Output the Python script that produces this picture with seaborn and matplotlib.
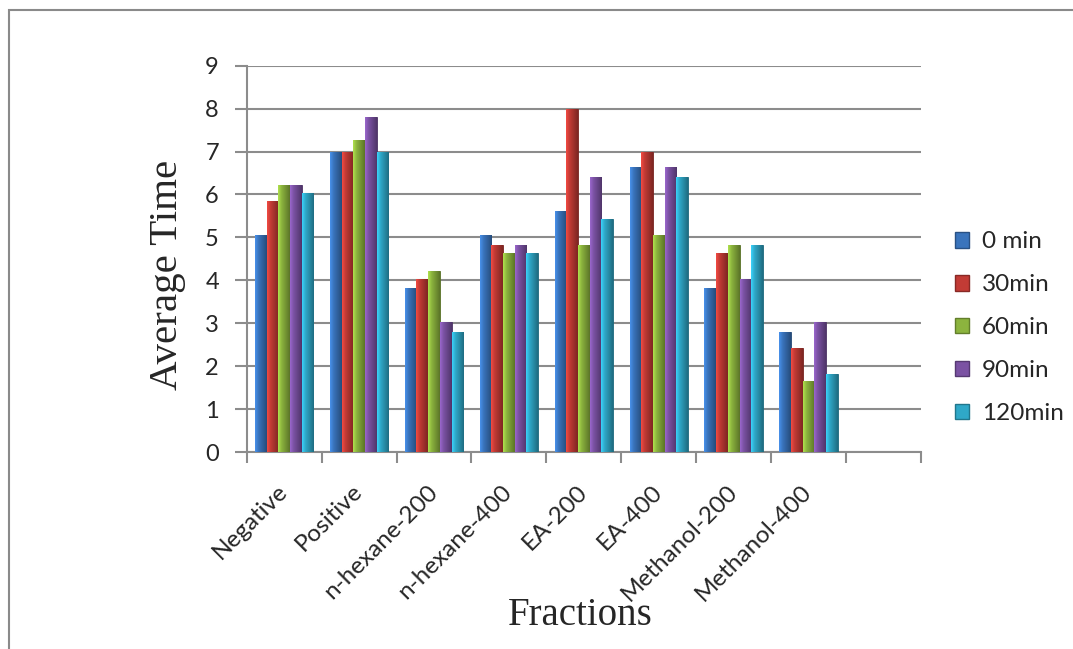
import numpy as np
import pandas as pd
import seaborn as sns
import matplotlib.pyplot as plt
from matplotlib.patches import Patch, Rectangle
from matplotlib.colors import to_rgb

sns.set_style("white")
plt.rcParams['font.family'] = ['Lato', 'DejaVu Sans']

categories = ["Negative", "Positive", "n-hexane-200", "n-hexane-400",
              "EA-200", "EA-400", "Methanol-200", "Methanol-400"]
times = ["0 min", "30min", "60min", "90min", "120min"]
t0 = [5.05, 7.0, 3.83, 5.05, 5.61, 6.63, 3.83, 2.80]
t30 = [5.84, 7.0, 4.02, 4.82, 8.0, 7.0, 4.63, 2.43]
t60 = [6.21, 7.26, 4.21, 4.63, 4.82, 5.05, 4.82, 1.65]
t90 = [6.21, 7.81, 3.04, 4.82, 6.40, 6.63, 4.02, 3.04]
t120 = [6.03, 7.0, 2.80, 4.63, 5.43, 6.40, 4.82, 1.82]
colors = ["#3a74bc", "#c23b35", "#8cb43e", "#7b52a3", "#2fa8c8"]

rows = []
for t, vals in zip(times, [t0, t30, t60, t90, t120]):
    for c, v in zip(categories, vals):
        rows.append({"Fraction": c, "Time": t, "Average Time": v})
df = pd.DataFrame(rows)

# excel leaves an empty 9th slot on the axis
order = categories + [" "]

fig = plt.figure(figsize=(10.73, 6.49), dpi=100)
ax = fig.add_axes([0.2299, 0.3035, 0.6284, 0.5953])

sns.barplot(data=df, x="Fraction", y="Average Time", hue="Time", order=order,
            hue_order=times, palette=colors, width=0.78, saturation=1,
            legend=False, ax=ax, zorder=3)

# bevel look: horizontal gradient clipped to each bar
for p in list(ax.patches):
    h = p.get_height()
    if not np.isfinite(h) or h <= 0:
        continue
    base = np.array(to_rgb(p.get_facecolor()))
    x = np.linspace(0, 1, 40)
    shade = np.where(x < 0.3, 1.0 + 0.25 * (0.3 - x) / 0.3, 1.0 - 0.35 * (x - 0.3) / 0.7)
    grad = np.clip(base[None, :] * shade[:, None], 0, 1)[None, :, :]
    im = ax.imshow(grad, extent=[p.get_x(), p.get_x() + p.get_width(), 0, h],
                   aspect='auto', zorder=3.5)
    im.set_clip_path(p)
    p.set_edgecolor(tuple(base * 0.6))
    p.set_linewidth(0.6)

ax.set_xlim(-0.5, 8.5)
ax.set_ylim(0, 9)
ax.set_aspect('auto')
ax.set_yticks(range(10))
ax.set_xticks(range(9))
ax.set_xticklabels(categories + [""], rotation=45, ha='right', va='center',
                   rotation_mode='anchor', fontsize=17.5)
ax.set_xticks(np.arange(-0.5, 9.0, 1.0), minor=True)
ax.tick_params(axis='x', which='major', length=0, pad=26)
ax.tick_params(axis='x', which='minor', length=8, width=1.5, color='#8c8c8c',
               direction='out', bottom=True)
ax.tick_params(axis='y', length=9, width=1.5, color='#8c8c8c', direction='out',
               left=True, labelsize=17, pad=11)

ax.yaxis.grid(True, color='#8c8c8c', lw=1.5, zorder=0)
ax.set_axisbelow(True)
for s in ['top', 'right']:
    ax.spines[s].set_visible(False)
for s in ['left', 'bottom']:
    ax.spines[s].set_color('#8c8c8c')
    ax.spines[s].set_linewidth(1.5)
ax.set_xlabel("")
ax.set_ylabel("")

fig.text(167 / 1073, 1 - 275 / 649, "Average Time", rotation=90, ha='center',
         va='center', fontsize=29.5, family='Liberation Serif')
fig.text(580 / 1073, 1 - 625 / 649, "Fractions", ha='center', va='baseline',
         fontsize=28, family='Liberation Serif')

handles = [Patch(facecolor=c, edgecolor=tuple(np.array(to_rgb(c)) * 0.7)) for c in colors]
fig.legend(handles, times, loc='center left', bbox_to_anchor=(933 / 1073, 0.495),
           frameon=False, fontsize=17.5, handlelength=0.6, handleheight=0.6,
           handletextpad=0.5, labelspacing=0.9)

# outer chart-area border
fig.add_artist(Rectangle((9 / 1073, -0.1), 2, 1.1 - 10 / 649, transform=fig.transFigure,
                         fill=False, ec='#8a8a8a', lw=1.5))

fig.savefig("out.png", dpi=100)
